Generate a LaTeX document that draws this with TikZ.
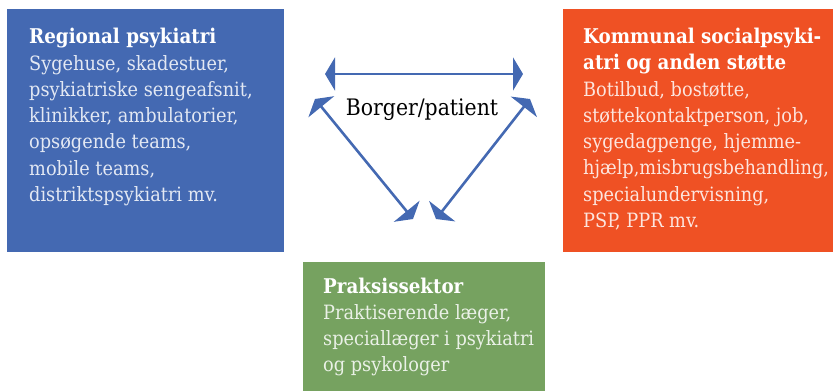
\documentclass[tikz,border=0pt]{standalone}
\usepackage{fontspec}
\setmainfont{DejaVu Serif Condensed}
\usepackage{tikz}
\usetikzlibrary{arrows.meta, positioning}

\definecolor{regblue}{RGB}{68,105,178}
\definecolor{komorange}{RGB}{239,81,36}
\definecolor{praksgreen}{RGB}{118,162,96}

\begin{document}
\begin{tikzpicture}[
    x=1pt, y=1pt,
    box/.style={rectangle, inner sep=0pt, anchor=north west},
    title/.style={anchor=base west, inner sep=0pt, align=left, text=white,
        font=\fontsize{20.3}{26.3}\selectfont\bfseries},
    body/.style={anchor=base west, inner sep=0pt, align=left, text=white, text opacity=0.85,
        font=\fontsize{19.7}{26.3}\selectfont},
    arrow/.style={{Triangle[length=10pt, width=33pt]}-{Triangle[length=10pt, width=33pt]},
        line width=2.6pt, draw=regblue}
]
\useasboundingbox (0,0) rectangle (833,-391);

% bokse
\node[box, fill=regblue, minimum width=277pt, minimum height=243pt] (region) at (7,-9) {};
\node[box, fill=komorange, minimum width=270pt, minimum height=243pt] (kommune) at (563,-9) {};
\node[box, fill=praksgreen, minimum width=242pt, minimum height=129pt] (praksis) at (303,-262) {};

% tekst i bokse (base = sidste linje)
\node[title] (regiontitel) at (29,-43) {Regional psykiatri};
\node[body] (regiontekst) at (29,-201.5) {Sygehuse, skadestuer,\\psykiatriske sengeafsnit,\\klinikker, ambulatorier,\\opsøgende teams,\\mobile teams,\\distriktspsykiatri mv.};
\node[title] (kommunetitel) at (583,-69.3) {Kommunal socialpsyki-\\atri og anden støtte};
\node[body] (kommunetekst) at (583,-227.5) {Botilbud, bostøtte,\\støttekontaktperson, job,\\sygedagpenge, hjemme-\\hjælp,misbrugsbehandling,\\specialundervisning,\\PSP, PPR mv.};
\node[title] (praksistitel) at (323,-293) {Praksissektor};
\node[body] (praksistekst) at (323,-371.6) {Praktiserende læger,\\speciallæger i psykiatri\\og psykologer};

% borger i midten
\node[anchor=base, inner sep=0pt, font=\fontsize{22.7}{26}\selectfont] (borger) at (422,-115) {Borger/patient};

% pilespidser
\coordinate (venstre) at (325,-74);
\coordinate (hoejre) at (523,-74);
\coordinate (venstreop) at (315,-99);
\coordinate (venstrened) at (413,-219);
\coordinate (hoejreop) at (530,-99);
\coordinate (hoejrened) at (436,-219);

% pile
\draw[arrow] (venstre) -- (hoejre);
\draw[arrow] (venstreop) -- (venstrened);
\draw[arrow] (hoejreop) -- (hoejrened);

\end{tikzpicture}
\end{document}
